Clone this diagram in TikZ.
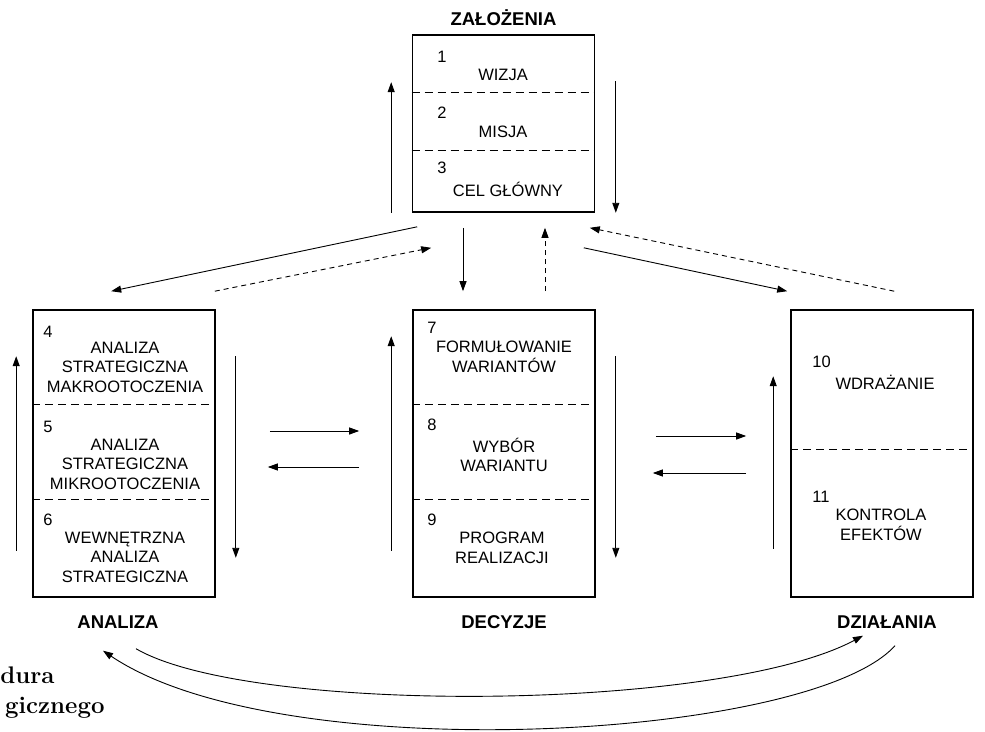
\documentclass[tikz,border=0pt]{standalone}
\usepackage{fontspec}
\setsansfont{Liberation Sans}
\usetikzlibrary{arrows.meta,positioning}

\begin{document}
\begin{tikzpicture}
                [
                    x=1pt,
                    y=-1pt,
                    -{Triangle[length=10pt,width=7pt]},
                    line width=0.9pt,
                    stage/.style={-, draw, line width=1.6pt, minimum width=182pt, inner sep=0pt},
                    stage tall/.style={stage, minimum height=287pt},
                    divider/.style={-, line width=1.2pt, dash pattern=on 8pt off 5pt},
                    feedback/.style={dash pattern=on 5pt off 4pt},
                    title/.style={font=\sffamily\bfseries\fontsize{18.5}{20}\selectfont,
                                  inner sep=0pt, text height=13pt, text depth=0pt},
                    num/.style={font=\sffamily\fontsize{16.5}{19.5}\selectfont,
                                inner sep=0pt, anchor=west},
                    item/.style={font=\sffamily\fontsize{16.5}{19.5}\selectfont,
                                 inner sep=0pt, align=center},
                    fragment/.style={font=\rmfamily\bfseries\fontsize{24}{28}\selectfont,
                                     inner sep=0pt, anchor=base east}
                ]
                \useasboundingbox (0,0) rectangle (985,731);

                % the four stages
                \node (zal) [stage, minimum height=177pt] at (503.5,123.5) {};
                \node (ana) [stage tall] at (124,453.5) {};
                \node (dec) [stage tall] at (504,453.5) {};
                \node (dzi) [stage tall] at (882,453.5) {};

                \node (zal title) [title, above=8pt of zal]              {ZAŁOŻENIA};
                \node (ana title) [title, below=17pt of ana, xshift=-6pt] {ANALIZA};
                \node (dec title) [title, below=17pt of dec]             {DECYZJE};
                \node (dzi title) [title, below=17pt of dzi, xshift=5pt]  {DZIAŁANIA};

                \draw [divider] ([yshift=-58pt]zal.north west)  -- ([yshift=-58pt]zal.north east);
                \draw [divider] ([yshift=-116pt]zal.north west) -- ([yshift=-116pt]zal.north east);
                \draw [divider] ([yshift=-95pt]ana.north west)  -- ([yshift=-95pt]ana.north east);
                \draw [divider] ([yshift=-190pt]ana.north west) -- ([yshift=-190pt]ana.north east);
                \draw [divider] ([yshift=-95pt]dec.north west)  -- ([yshift=-95pt]dec.north east);
                \draw [divider] ([yshift=-190pt]dec.north west) -- ([yshift=-190pt]dec.north east);
                \draw [divider] ([yshift=-140pt]dzi.north west) -- ([yshift=-140pt]dzi.north east);

                % contents
                \node (num 1)  [num] at (437,57)  {1};
                \node (wizja)  [item] at (503,75) {WIZJA};
                \node (num 2)  [num] at (437,113) {2};
                \node (misja)  [item] at (503,132) {MISJA};
                \node (num 3)  [num] at (437,168) {3};
                \node (cel)    [item, anchor=base] at (508,196) {CEL GŁÓWNY};

                \node (num 4)  [num] at (43,332)  {4};
                \node (makro)  [item] at (125,367) {ANALIZA\\STRATEGICZNA\\MAKROOTOCZENIA};
                \node (num 5)  [num] at (43,427)  {5};
                \node (mikro)  [item] at (125,464) {ANALIZA\\STRATEGICZNA\\MIKROOTOCZENIA};
                \node (num 6)  [num] at (43,520)  {6};
                \node (wewn)   [item] at (125,557) {WEWNĘTRZNA\\ANALIZA\\STRATEGICZNA};

                \node (num 7)  [num] at (427,328) {7};
                \node (form)   [item] at (504,357) {FORMUŁOWANIE\\WARIANTÓW};
                \node (num 8)  [num] at (427,425) {8};
                \node (wybor)  [item] at (504,455) {WYBÓR\\WARIANTU};
                \node (num 9)  [num] at (427,520) {9};
                \node (prog)   [item] at (502,548) {PROGRAM\\REALIZACJI};

                \node (num 10) [num] at (812,362) {10};
                \node (wdraz)  [item] at (885,382) {WDRAŻANIE};
                \node (num 11) [num] at (812,497) {11};
                \node (kontr)  [item] at (881,525) {KONTROLA\\EFEKTÓW};

                % arrows beside the stages
                \path
                ([xshift=-20.5pt]zal.south west)            edge ([xshift=-20.5pt,yshift=-48pt]zal.north west)
                ([xshift=20.5pt,yshift=-47pt]zal.north east) edge ([xshift=20.5pt]zal.south east)
                ([xshift=-16pt,yshift=47pt]ana.south west)  edge ([xshift=-16pt,yshift=-47pt]ana.north west)
                ([xshift=20pt,yshift=-47pt]ana.north east)  edge ([xshift=20pt,yshift=40pt]ana.south east)
                ([xshift=-21pt,yshift=47pt]dec.south west)  edge ([xshift=-21pt,yshift=-27pt]dec.north west)
                ([xshift=20pt,yshift=-47pt]dec.north east)  edge ([xshift=20pt,yshift=40pt]dec.south east)
                ([xshift=-17pt,yshift=49pt]dzi.south west)  edge ([xshift=-17pt,yshift=-67pt]dzi.north west)
                ;

                % between the stages
                \path
                ([xshift=5.5pt,yshift=-14pt]zal.south west)  edge ([xshift=79pt,yshift=18pt]ana.north west)
                ([xshift=-1pt,yshift=18pt]ana.north east)    edge [feedback] ([xshift=19.5pt,yshift=-35pt]zal.south west)
                ([xshift=-40.5pt,yshift=-15pt]zal.south)     edge ([xshift=-41pt,yshift=18pt]dec.north)
                ([xshift=41pt,yshift=18pt]dec.north)         edge [feedback] ([xshift=41.5pt,yshift=-15pt]zal.south)
                ([xshift=-11.5pt,yshift=-35pt]zal.south east) edge ([xshift=-3pt,yshift=18pt]dzi.north west)
                ([xshift=104pt,yshift=18pt]dzi.north west)   edge [feedback] ([xshift=-5.5pt,yshift=-15pt]zal.south east)
                ([xshift=54pt,yshift=22.5pt]ana.east)        edge ([xshift=-53pt,yshift=22.5pt]dec.west)
                ([xshift=-53pt,yshift=-13.5pt]dec.west)      edge ([xshift=52pt,yshift=-13.5pt]ana.east)
                ([xshift=60pt,yshift=17.5pt]dec.east)        edge ([xshift=-44pt,yshift=17.5pt]dzi.west)
                ([xshift=-44pt,yshift=-19.5pt]dzi.west)      edge ([xshift=57pt,yshift=-19.5pt]dec.east)
                ;

                % loops at the bottom
                \draw ([xshift=18pt,yshift=-20pt]ana title.south)
                      .. controls (250,715) and (720,712) ..
                      ([xshift=-24pt,yshift=-7pt]dzi title.south);
                \draw ([xshift=8pt,yshift=-17pt]dzi title.south)
                      .. controls (810,740) and (280,770) ..
                      ([xshift=-15pt,yshift=-22pt]ana title.south);

                \node (caption a) [fragment] at (55,683)  {dura};
                \node (caption b) [fragment] at (105,713) {gicznego};

            \end{tikzpicture}
\end{document}
